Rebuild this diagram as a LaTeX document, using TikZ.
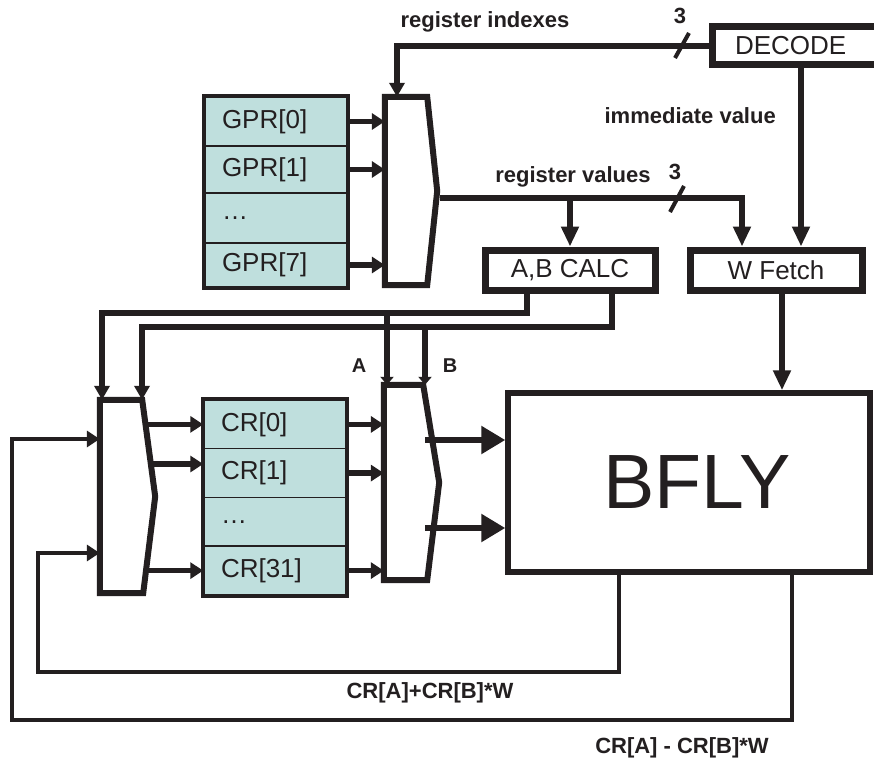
\documentclass[tikz,border=0pt]{standalone}
\usepackage{fontspec}
\setmainfont{Liberation Sans}
\usetikzlibrary{arrows.meta,calc}
\definecolor{ink}{RGB}{35,31,32}
\definecolor{regc}{RGB}{191,223,221}
\begin{document}
\begin{tikzpicture}[x=1pt,y=-1pt,line join=miter,
  wire/.style={draw=ink,line width=5.5pt},
  loopw/.style={draw=ink,line width=4.5pt},
  box/.style={draw=ink,line width=7pt,fill=white,inner sep=0pt,text=ink,font=\fontsize{26}{28}\selectfont},
  bflybox/.style={draw=ink,line width=5.5pt,fill=white,inner sep=0pt,text=ink,font=\fontsize{77}{80}\selectfont},
  regrow/.style={draw=ink,line width=1.5pt,fill=regc,minimum width=142pt,inner sep=0pt,text width=108pt,align=left,text=ink,font=\fontsize{26}{28}\selectfont},
  muxs/.style={draw=ink,line width=6pt,fill=white},
  muxn/.style={inner sep=0pt},
  frame/.style={draw=ink,line width=4pt},
  lbl/.style={font=\bfseries\fontsize{22}{24}\selectfont,text=ink,inner sep=0pt},
  tickm/.style={draw=ink,line width=4pt},
  inarr/.style={-{Triangle[length=13pt,width=16pt]}},
  downarr/.style={-{Triangle[length=20pt,width=17pt]}},
  toparr/.style={-{Triangle[length=14pt,width=15pt]}},
  abarr/.style={-{Triangle[length=8pt,width=13pt]}},
  bigarr/.style={-{Triangle[length=24pt,width=27pt]}}]
\clip (0,0) rectangle (874,762);
\fill[white] (0,0) rectangle (874,762);

% ---------- boxes ----------
\node[box,minimum width=178pt,minimum height=38pt,text width=146pt,align=left,inner xsep=16pt] (dec) at (801,46) {\hspace*{7pt}DECODE};
\node[box,minimum width=170pt,minimum height=40pt] (abc) at (570,270) {A,B CALC};
\node[box,minimum width=172pt,minimum height=40pt] (wf) at (776,270) {W Fetch};
\node[bflybox,minimum width=362pt,minimum height=179pt] (bfly) at (689,482.5) {\hspace*{16pt}BFLY};

% ---------- GPR register file ----------
\node[regrow,minimum height=49pt] (g0) at (276,121.5) {GPR[0]};
\node[regrow,minimum height=47pt] (g1) at (276,169.5) {GPR[1]};
\node[regrow,minimum height=50pt] (gd) at (276,218) {\dots};
\node[regrow,minimum height=44pt] (g7) at (276,265) {GPR[7]};
\draw[frame] (g0.north west) rectangle (g7.south east);

% ---------- CR register file ----------
\node[regrow,minimum height=48.75pt] (c0) at (275,424.4) {CR[0]};
\node[regrow,minimum height=48.75pt] (c1) at (275,473.1) {CR[1]};
\node[regrow,minimum height=48.75pt] (cd) at (275,521.9) {\dots};
\node[regrow,minimum height=48.75pt] (c31) at (275,570.6) {CR[31]};
\draw[frame] (c0.north west) rectangle (c31.south east);

% ---------- multiplexers ----------
\node[muxn,minimum width=42pt,minimum height=188pt] (gmux) at (406,191) {};
\node[muxn,minimum width=39pt,minimum height=195pt] (cmux) at (403.5,482.5) {};
\node[muxn,minimum width=42pt,minimum height=193pt] (lmux) at (121,496.5) {};
\draw[muxs] (gmux.north west) -- (gmux.north east) -- ([xshift=10pt]gmux.east) -- (gmux.south east) -- (gmux.south west) -- cycle;
\draw[muxs] (cmux.north west) -- (cmux.north east) -- ([xshift=16pt]cmux.east) -- ([xshift=4pt]cmux.south east) -- (cmux.south west) -- cycle;
\draw[muxs] (lmux.north west) -- (lmux.north east) -- ([xshift=13pt]lmux.east) -- ([xshift=1pt]lmux.south east) -- (lmux.south west) -- cycle;

% ---------- coordinates ----------
\coordinate (rv) at (440,198);
\coordinate (ya) at (0,313);
\coordinate (yb) at (0,327);
\coordinate (la) at ([xshift=-19pt]lmux.north);
\coordinate (lb) at ([xshift=21pt]lmux.north);
\coordinate (ca) at ([xshift=-16.5pt]cmux.north);
\coordinate (cb) at ([xshift=21.5pt]cmux.north);
\coordinate (o1) at (425,440);
\coordinate (o2) at (425,528);
\coordinate (in1) at (lmux.west |- 0,439);
\coordinate (in2) at (lmux.west |- 0,553);

% ---------- GPR -> mux ----------
\draw[wire,inarr] (g0.east) -- (g0.east -| gmux.west);
\draw[wire,inarr] (g1.east) -- (g1.east -| gmux.west);
\draw[wire,inarr] (g7.east) -- (g7.east -| gmux.west);

% ---------- DECODE -> GPR mux ----------
\draw[wire,toparr] (dec.west) -| ([xshift=-9pt]gmux.north);
\draw[tickm] (689,33) -- (675,58);
\node[lbl] (n3a) at (680,16) {3};
\node[lbl] (lri) at (485,22) {register indexes};

% ---------- immediate value ----------
\draw[wire,downarr] (dec.south) -- (dec.south |- wf.north);
\node[lbl,anchor=east] (liv) at (776,116) {immediate value};

% ---------- register values ----------
\draw[wire,downarr] (rv) -| ([xshift=-34pt]wf.north);
\draw[wire,downarr] (abc.north |- rv) -- (abc.north);
\draw[tickm] (684,186) -- (670,212);
\node[lbl] (n3b) at (675,172) {3};
\node[lbl] (lrv) at (573,177) {register values};

% ---------- W Fetch -> BFLY ----------
\draw[wire,downarr] ([xshift=6pt]wf.south) -- ([xshift=6pt]wf.south |- bfly.north);

% ---------- A,B CALC -> muxes ----------
\draw[wire,toparr] ([xshift=-43pt]abc.south) |- (la |- ya) -- (la);
\draw[wire,toparr] ([xshift=42pt]abc.south) |- (lb |- yb) -- (lb);
\draw[wire,abarr] (ca |- ya) -- (ca);
\draw[wire,abarr] (cb |- yb) -- (cb);
\node[lbl,font=\bfseries\fontsize{20}{22}\selectfont] (lA) at (359,366) {A};
\node[lbl,font=\bfseries\fontsize{20}{22}\selectfont] (lB) at (450,366) {B};

% ---------- left mux -> CR ----------
\draw[wire,inarr] ($(lmux.east |- c0.west)+(4,0)$) -- (c0.west);
\draw[wire,inarr] ($(lmux.east |- 0,464)+(9,0)$) -- (c1.west |- 0,464);
\draw[wire,inarr] ($(lmux.east |- c31.west)+(4,0)$) -- (c31.west);

% ---------- CR -> CR mux ----------
\draw[wire,inarr] (c0.east) -- (c0.east -| cmux.west);
\draw[wire,inarr] (c1.east) -- (c1.east -| cmux.west);
\draw[wire,inarr] (c31.east) -- (c31.east -| cmux.west);

% ---------- CR mux -> BFLY ----------
\draw[wire,bigarr] (o1) -- (o1 -| bfly.west);
\draw[wire,bigarr] (o2) -- (o2 -| bfly.west);

% ---------- feedback loops ----------
\draw[loopw,inarr] ([xshift=-70pt]bfly.south) |- (38,672) |- (in2);
\draw[loopw,inarr] ([xshift=103pt]bfly.south) |- (12,720) |- (in1);
\node[lbl] (lsum) at (430,693) {CR[A]+CR[B]*W};
\node[lbl] (ldif) at (682,748) {CR[A] - CR[B]*W};
\end{tikzpicture}
\end{document}
